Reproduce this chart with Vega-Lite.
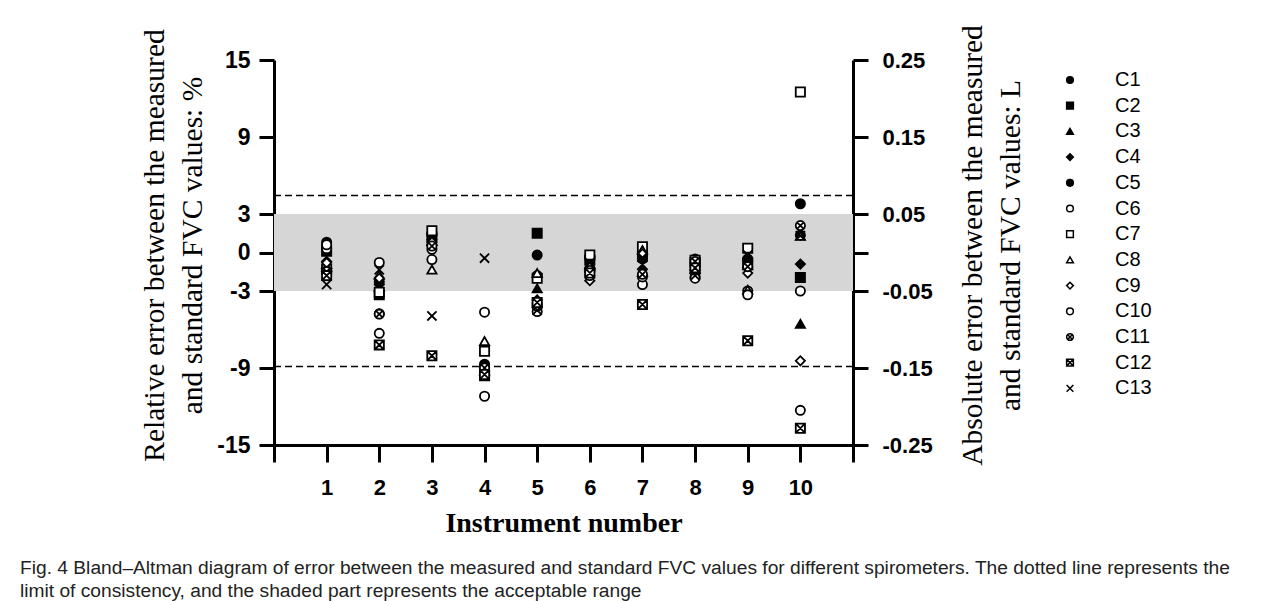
{
  "$schema": "https://vega.github.io/schema/vega-lite/v6.json",
  "width": 579,
  "height": 385,
  "autosize": {"type": "none"},
  "padding": {"left": 274, "top": 60, "right": 431, "bottom": 156},
  "background": "white",
  "config": {
    "view": {"stroke": null},
    "axis": {"domainColor": "black", "domainWidth": 3, "tickColor": "black", "tickWidth": 3, "labelColor": "black", "titleColor": "black", "grid": false}
  },
  "title": {
    "text": ["Fig. 4  Bland–Altman diagram of error between the measured and standard FVC values for different spirometers. The dotted line represents the", "limit of consistency, and the shaded part represents the acceptable range"],
    "orient": "bottom", "anchor": "start", "frame": "group",
    "font": "Liberation Sans", "fontSize": 19.2, "fontWeight": "normal", "lineHeight": 23,
    "color": "#222", "dx": -254, "offset": 22
  },
  "datasets": {
    "pts": [
      {"inst":1,"series":"C1","v":0.8},{"inst":1,"series":"C2","v":0.1},{"inst":1,"series":"C3","v":-0.9},{"inst":1,"series":"C4","v":-0.7},{"inst":1,"series":"C5","v":0.5},{"inst":1,"series":"C6","v":0.3},{"inst":1,"series":"C7","v":-1.3},{"inst":1,"series":"C8","v":-1.1},{"inst":1,"series":"C9","v":-0.8},{"inst":1,"series":"C10","v":0.6},{"inst":1,"series":"C11","v":-1.5},{"inst":1,"series":"C12","v":-1.8},{"inst":1,"series":"C13","v":-2.5},
      {"inst":2,"series":"C1","v":-2.3},{"inst":2,"series":"C2","v":-3.3},{"inst":2,"series":"C3","v":-2.7},{"inst":2,"series":"C4","v":-2.5},{"inst":2,"series":"C5","v":-4.78},{"inst":2,"series":"C6","v":-0.78},{"inst":2,"series":"C7","v":-3.1},{"inst":2,"series":"C8","v":-1.74},{"inst":2,"series":"C9","v":-2.0},{"inst":2,"series":"C10","v":-6.3},{"inst":2,"series":"C11","v":-4.8},{"inst":2,"series":"C12","v":-7.2},{"inst":2,"series":"C13","v":-1.35},
      {"inst":3,"series":"C1","v":1.4},{"inst":3,"series":"C2","v":1.2},{"inst":3,"series":"C3","v":0.9},{"inst":3,"series":"C4","v":1.0},{"inst":3,"series":"C5","v":0.6},{"inst":3,"series":"C6","v":0.25},{"inst":3,"series":"C7","v":1.7},{"inst":3,"series":"C8","v":-1.33},{"inst":3,"series":"C9","v":0.8},{"inst":3,"series":"C10","v":-0.55},{"inst":3,"series":"C11","v":0.5},{"inst":3,"series":"C12","v":-8.05},{"inst":3,"series":"C13","v":-4.94},
      {"inst":4,"series":"C1","v":-8.7},{"inst":4,"series":"C2","v":-9.6},{"inst":4,"series":"C3","v":-9.2},{"inst":4,"series":"C4","v":-9.0},{"inst":4,"series":"C5","v":-8.8},{"inst":4,"series":"C6","v":-4.65},{"inst":4,"series":"C7","v":-7.7},{"inst":4,"series":"C8","v":-6.9},{"inst":4,"series":"C9","v":-9.3},{"inst":4,"series":"C10","v":-11.2},{"inst":4,"series":"C11","v":-9.0},{"inst":4,"series":"C12","v":-9.5},{"inst":4,"series":"C13","v":-0.44},
      {"inst":5,"series":"C1","v":-0.2},{"inst":5,"series":"C2","v":1.5},{"inst":5,"series":"C3","v":-2.8},{"inst":5,"series":"C4","v":-3.7},{"inst":5,"series":"C5","v":-4.0},{"inst":5,"series":"C6","v":-1.8},{"inst":5,"series":"C7","v":-2.0},{"inst":5,"series":"C8","v":-1.6},{"inst":5,"series":"C9","v":-4.3},{"inst":5,"series":"C10","v":-4.6},{"inst":5,"series":"C11","v":-4.2},{"inst":5,"series":"C12","v":-3.9},{"inst":5,"series":"C13","v":-4.5},
      {"inst":6,"series":"C1","v":-0.3},{"inst":6,"series":"C2","v":-0.6},{"inst":6,"series":"C3","v":-0.9},{"inst":6,"series":"C4","v":-1.2},{"inst":6,"series":"C5","v":-0.4},{"inst":6,"series":"C6","v":-1.5},{"inst":6,"series":"C7","v":-0.2},{"inst":6,"series":"C8","v":-1.0},{"inst":6,"series":"C9","v":-2.2},{"inst":6,"series":"C10","v":-1.8},{"inst":6,"series":"C11","v":-1.4},{"inst":6,"series":"C12","v":-1.6},{"inst":6,"series":"C13","v":-0.8},
      {"inst":7,"series":"C1","v":0.0},{"inst":7,"series":"C2","v":-0.3},{"inst":7,"series":"C3","v":-1.5},{"inst":7,"series":"C4","v":-1.3},{"inst":7,"series":"C5","v":-0.5},{"inst":7,"series":"C6","v":-2.5},{"inst":7,"series":"C7","v":0.45},{"inst":7,"series":"C8","v":0.2},{"inst":7,"series":"C9","v":-0.1},{"inst":7,"series":"C10","v":-1.9},{"inst":7,"series":"C11","v":-1.7},{"inst":7,"series":"C12","v":-4.05},{"inst":7,"series":"C13","v":-0.4},
      {"inst":8,"series":"C1","v":-0.5},{"inst":8,"series":"C2","v":-0.8},{"inst":8,"series":"C3","v":-1.3},{"inst":8,"series":"C4","v":-1.1},{"inst":8,"series":"C5","v":-1.6},{"inst":8,"series":"C6","v":-1.9},{"inst":8,"series":"C7","v":-0.6},{"inst":8,"series":"C8","v":-1.0},{"inst":8,"series":"C9","v":-1.4},{"inst":8,"series":"C10","v":-2.0},{"inst":8,"series":"C11","v":-0.7},{"inst":8,"series":"C12","v":-1.2},{"inst":8,"series":"C13","v":-1.8},
      {"inst":9,"series":"C1","v":-0.5},{"inst":9,"series":"C2","v":-0.8},{"inst":9,"series":"C3","v":-1.0},{"inst":9,"series":"C4","v":-1.2},{"inst":9,"series":"C5","v":-0.7},{"inst":9,"series":"C6","v":-3.0},{"inst":9,"series":"C7","v":0.34},{"inst":9,"series":"C8","v":-2.9},{"inst":9,"series":"C9","v":-1.6},{"inst":9,"series":"C10","v":-3.3},{"inst":9,"series":"C11","v":-1.1},{"inst":9,"series":"C12","v":-6.88},{"inst":9,"series":"C13","v":-0.2},
      {"inst":10,"series":"C1","v":3.8},{"inst":10,"series":"C2","v":-1.95},{"inst":10,"series":"C3","v":-5.56},{"inst":10,"series":"C4","v":-0.9},{"inst":10,"series":"C5","v":1.35},{"inst":10,"series":"C6","v":-3.0},{"inst":10,"series":"C7","v":12.5},{"inst":10,"series":"C8","v":1.3},{"inst":10,"series":"C9","v":-8.44},{"inst":10,"series":"C10","v":-12.3},{"inst":10,"series":"C11","v":2.1},{"inst":10,"series":"C12","v":-13.7},{"inst":10,"series":"C13","v":1.3}
    ],
    "band": [{"lo": -3, "hi": 3}],
    "limits": [{"lim": 4.44}, {"lim": -8.89}]
  },
  "layer": [
    {
      "layer": [
        {
          "data": {"name": "band"},
          "mark": {"type": "rect", "color": "#d6d6d6"},
          "encoding": {
            "y": {"field": "hi", "type": "quantitative", "scale": {"domain": [-15, 15], "nice": false}},
            "y2": {"field": "lo"}
          }
        },
        {
          "data": {"name": "limits"},
          "mark": {"type": "rule", "color": "black", "strokeWidth": 1.5, "strokeDash": [7, 4]},
          "encoding": {
            "y": {"field": "lim", "type": "quantitative"}
          }
        },
        {
          "data": {"name": "pts"},
          "mark": {"type": "point", "filled": false, "stroke": "black", "strokeWidth": 1.8, "size": 85, "opacity": 1},
          "encoding": {
            "x": {"field": "inst", "type": "quantitative", "scale": {"domain": [0, 11], "nice": false},
              "axis": {"values": [0,1,2,3,4,5,6,7,8,9,10,11], "labelExpr": "datum.value >= 1 && datum.value <= 10 ? datum.label : ''", "tickSize": 17, "labelPadding": 15, "labelFont": "Liberation Sans", "labelFontWeight": "bold", "labelFontSize": 22, "title": "Instrument number", "titleFont": "Liberation Serif", "titleFontWeight": "bold", "titleFontSize": 28, "titlePadding": 11}},
            "y": {"field": "v", "type": "quantitative", "scale": {"domain": [-15, 15], "nice": false},
              "axis": {"orient": "left", "values": [15, 9, 3, 0, -3, -9, -15], "labelExpr": "replace(datum.label, '−', '-')", "tickSize": 15, "labelPadding": 9, "labelFont": "Liberation Sans", "labelFontWeight": "bold", "labelFontSize": 23, "title": ["Relative error between the measured", "and standard FVC values: %"], "titleFont": "Liberation Serif", "titleFontWeight": "normal", "titleFontSize": 29.5, "titleLineHeight": 38, "titlePadding": 9, "titleY": 185}},
            "shape": {"field": "series", "type": "nominal",
              "scale": {"domain": ["C1","C2","C3","C4","C5","C6","C7","C8","C9","C10","C11","C12","C13"],
                "range": ["circle","square","triangle-up","diamond","circle","circle","square","triangle-up","diamond","circle","M-1,0A1,1,0,1,0,1,0A1,1,0,1,0,-1,0ZM-0.6,-0.6L0.6,0.6M-0.6,0.6L0.6,-0.6","M-1,-1L1,-1L1,1L-1,1ZM-1,-1L1,1M-1,1L1,-1","M-1,-1L1,1M-1,1L1,-1"]},
              "legend": {"title": null, "orient": "none", "legendX": 786, "legendY": 10, "labelFont": "Liberation Sans", "labelFontSize": 20, "labelColor": "black", "symbolSize": 45, "rowPadding": 5.7, "labelOffset": 35,
                "encode": {"symbols": {"update": {"stroke": {"value": "black"}, "strokeWidth": {"value": 1.5}}}}}},
            "fill": {"field": "series", "type": "nominal",
              "scale": {"domain": ["C1","C2","C3","C4","C5","C6","C7","C8","C9","C10","C11","C12","C13"],
                "range": ["black","black","black","black","black","white","white","white","white","white","white","white","white"]},
              "legend": {"title": null, "orient": "none", "legendX": 786, "legendY": 10, "labelFont": "Liberation Sans", "labelFontSize": 20, "labelColor": "black", "symbolSize": 45, "rowPadding": 5.7, "labelOffset": 35,
                "encode": {"symbols": {"update": {"stroke": {"value": "black"}, "strokeWidth": {"value": 1.5}}}}}}
          }
        }
      ]
    },
    {
      "mark": {"type": "rule", "color": "black", "strokeWidth": 2},
      "encoding": {
        "y": {"datum": 0, "type": "quantitative", "scale": {"domain": [-0.25, 0.25], "nice": false},
          "axis": {"orient": "right", "values": [0.25, 0.15, 0.05, 0, -0.05, -0.15, -0.25], "labelExpr": "datum.value == 0 ? '' : replace(format(datum.value, '.2f'), '−', '-')", "tickSize": 15, "labelPadding": 14, "labelFont": "Liberation Sans", "labelFontWeight": "bold", "labelFontSize": 22, "title": ["Absolute error between the measured", "and standard FVC values: L"], "titleAngle": 270, "titleFont": "Liberation Serif", "titleFontWeight": "normal", "titleFontSize": 29.5, "titleLineHeight": 38, "titlePadding": 17, "titleY": 185}}
      }
    }
  ],
  "resolve": {"scale": {"y": "independent"}}
}
